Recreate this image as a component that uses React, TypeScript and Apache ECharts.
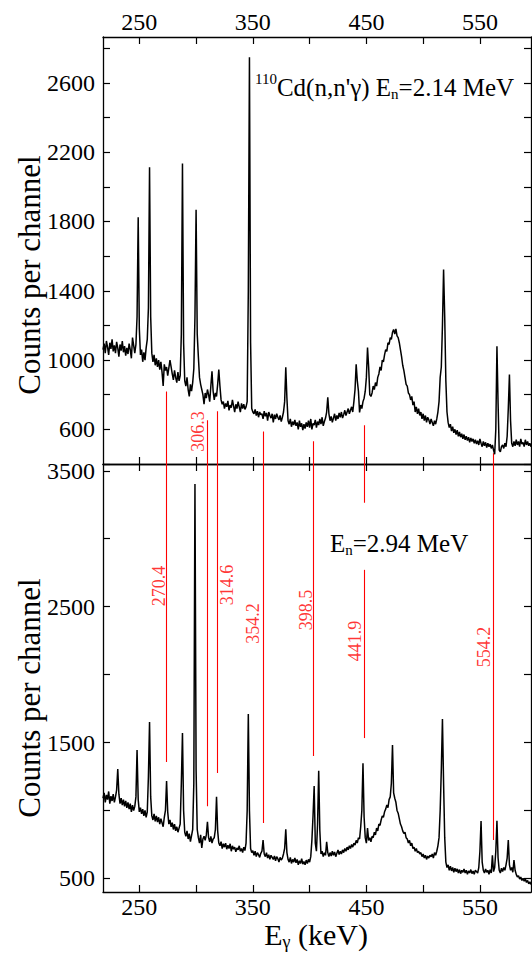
import React, { useEffect, useRef } from "react";
import * as echarts from "echarts";

// Energy of the first channel (keV); one value per keV
const E0 = 218;

// 110Cd(n,n'γ), En = 2.14 MeV — counts per channel, E = 218 … 595 keV
const topCounts = [
  1060, 1095, 1040, 1110, 1075, 1030, 1100, 1065, 1120, 1050,
  1085, 1040, 1105, 1070, 1020, 1090, 1055, 1110, 1045, 1080,
  1025, 1070, 1035, 1095, 1060, 1010, 1130, 1085, 1040, 1090,
  1250, 1825, 1180, 1030, 1060, 990, 1045, 1000, 1070, 1120,
  1300, 2113, 1250, 1040, 990, 1030, 970, 1010, 960, 1000,
  945, 990, 930, 850, 975, 940, 960, 910, 955, 1000,
  960, 920, 885, 940, 900, 870, 930, 880, 910, 1150,
  2134, 1100, 880, 850, 900, 830, 790, 860, 820, 870,
  950, 1250, 1867, 1150, 1020, 900, 860, 830, 800, 745,
  810, 780, 830, 800, 760, 850, 935, 820, 770, 810,
  790, 860, 945, 850, 770, 745, 760, 720, 750, 730,
  765, 710, 740, 725, 770, 735, 700, 745, 720, 760,
  730, 700, 750, 720, 745, 715, 730, 760, 1400, 2748,
  1100, 720, 700, 690, 715, 680, 705, 670, 700, 685,
  690, 660, 705, 675, 695, 650, 700, 680, 665, 690,
  640, 685, 660, 690, 670, 655, 680, 645, 670, 700,
  760, 958, 780, 650, 630, 660, 615, 645, 625, 655,
  620, 640, 600, 650, 615, 635, 595, 630, 605, 640,
  615, 650, 610, 660, 600, 635, 625, 655, 610, 645,
  625, 660, 630, 670, 620, 645, 665, 700, 785, 690,
  650, 675, 640, 665, 690, 650, 680, 660, 695, 670,
  700, 665, 685, 710, 680, 700, 720, 690, 710, 730,
  700, 760, 830, 975, 880, 820, 698, 740, 720, 760,
  780, 820, 900, 1073, 960, 800, 790, 810, 850, 830,
  870, 850, 900, 920, 960, 940, 1000, 990, 1030, 1060,
  1050, 1100, 1090, 1130, 1120, 1160, 1177, 1150, 1180, 1140,
  1130, 1100, 1060, 1020, 970, 940, 900, 860, 850, 810,
  800, 770, 790, 740, 760, 700, 730, 690, 720, 680,
  700, 660, 690, 650, 680, 640, 670, 655, 630, 660,
  640, 620, 650, 630, 660, 700, 760, 900, 960, 1200,
  1523, 1250, 880, 700, 640, 610, 630, 590, 615, 580,
  600, 570, 595, 560, 585, 555, 575, 545, 570, 540,
  560, 535, 555, 525, 550, 530, 545, 520, 540, 515,
  535, 510, 545, 520, 500, 530, 505, 525, 495, 520,
  500, 515, 490, 510, 480, 456, 600, 1080, 750, 480,
  470, 500, 510, 490, 520, 500, 560, 720, 917, 650,
  520, 500, 530, 505, 540, 510, 530, 500, 545, 515,
  525, 500, 540, 510, 530, 505, 520, 500,
];

// En = 2.94 MeV — counts per channel, E = 218 … 595 keV
const bottomCounts = [
  1090, 1130, 1060, 1115, 1080, 1140, 1050, 1105, 1070, 1120,
  1060, 1100, 1150, 1305, 1120, 1050, 1090, 1040, 1080, 1030,
  1070, 1020, 1060, 1010, 1050, 990, 1040, 1000, 1030, 1100,
  1445, 1080, 990, 1020, 975, 1010, 960, 1000, 950, 990,
  1250, 1651, 1100, 960, 930, 975, 920, 960, 915, 950,
  900, 940, 910, 880, 950, 1000, 1217, 990, 900, 930,
  880, 910, 860, 900, 850, 880, 840, 870, 900, 1200,
  1570, 1000, 840, 810, 850, 790, 830, 770, 815, 860,
  1200, 3402, 1300, 860, 800, 760, 820, 724, 790, 810,
  780, 820, 917, 800, 770, 810, 760, 790, 800, 860,
  1101, 850, 760, 740, 770, 720, 755, 730, 760, 715,
  745, 720, 755, 700, 740, 715, 730, 695, 725, 710,
  740, 700, 720, 690, 730, 705, 760, 1000, 1710, 1000,
  720, 690, 705, 670, 700, 660, 690, 675, 655, 685,
  700, 782, 680, 660, 690, 650, 675, 640, 670, 655,
  640, 665, 630, 660, 645, 620, 655, 635, 650, 680,
  720, 861, 690, 640, 620, 655, 610, 640, 620, 650,
  615, 640, 600, 630, 610, 645, 605, 625, 600, 635,
  610, 640, 620, 660, 780, 960, 1180, 760, 700, 900,
  1292, 850, 680, 700, 660, 690, 670, 770, 690, 660,
  690, 665, 700, 670, 695, 660, 685, 710, 675, 700,
  680, 710, 690, 720, 700, 730, 710, 740, 720, 750,
  730, 760, 745, 780, 760, 800, 790, 880, 1000, 1347,
  950, 800, 760, 870, 780, 800, 770, 810, 800, 840,
  820, 870, 850, 900, 890, 930, 960, 950, 990, 1010,
  1040, 1020, 1080, 1100, 1200, 1482, 1130, 1090, 1060, 1000,
  980, 940, 900, 880, 850, 830, 840, 800, 790, 760,
  780, 740, 760, 720, 730, 700, 720, 690, 700, 680,
  690, 660, 680, 650, 670, 640, 665, 650, 670, 660,
  680, 650, 690, 670, 700, 740, 800, 1000, 1300, 1673,
  1200, 800, 620, 580, 600, 560, 590, 555, 580, 545,
  575, 550, 570, 540, 565, 535, 560, 545, 570, 540,
  560, 530, 555, 540, 565, 535, 555, 530, 560, 550,
  540, 580, 700, 922, 620, 560, 540, 570, 545, 560,
  530, 565, 540, 671, 550, 580, 700, 924, 650, 560,
  540, 575, 550, 580, 560, 600, 650, 782, 600, 560,
  580, 545, 635, 560, 530, 510, 520, 495, 510, 485,
  500, 480, 495, 470, 485, 460, 475, 455,
];

// Red marker lines (position in keV), their labels and vertical extents
const markerEnergies = [273.7, 310.1, 318.9, 359.1, 403.3, 447.9, 561.7];
const markerLabels = ["270.4", "306.3", "314.6", "354.2", "398.5", "441.9", "554.2"];
const markerTopStart = [819, 652, 704, 588, 531, 623, 462]; // upper panel counts
const markerBottomEnd = [1357, 1032, 1276, 907, 1401, 1533, 782]; // lower panel counts
const markerGap441 = [3264, 2771]; // interruption behind "En=2.94 MeV"
const labelEnergies = [266.9, 302.1, 327.1, 350.5, 396.5, 440.4, 553.5];
const labelCounts = [2653, 588, 2660, 2377, 2476, 2248, 2204];
const labelPanel = [1, 0, 1, 1, 1, 1, 1];

// Axes
const xMin = 218;
const xMax = 595;
const xTicks = [250, 300, 350, 400, 450, 500, 550];
const xLabels = [250, 350, 450, 550];
const topYMin = 400;
const topYMax = 2865;
const topYTicks = [400, 600, 800, 1000, 1200, 1400, 1600, 1800, 2000, 2200, 2400, 2600, 2800];
const topYLabels = [600, 1000, 1400, 1800, 2200, 2600];
const botYMin = 400;
const botYMax = 3550;
const botYTicks = [500, 1000, 1500, 2000, 2500, 3000, 3500];
const botYLabels = [500, 1500, 2500, 3500];

const FONT = "Liberation Serif";
const RED = "#ff0000";

type Part = { s: string; size: number; dy: number };

function measure(s: string, size: number): number {
  const ctx = document.createElement("canvas").getContext("2d");
  if (!ctx) return s.length * size * 0.5;
  ctx.font = `${size}px "${FONT}"`;
  return ctx.measureText(s).width;
}

// A line of text made of pieces (for super/subscripts)
function textRun(parts: Part[], x: number, y: number, align: "left" | "center"): any[] {
  const widths = parts.map((p) => measure(p.s, p.size));
  const total = widths.reduce((a, b) => a + b, 0);
  let cx = align === "center" ? x - total / 2 : x;
  return parts.map((p, i) => {
    const el = {
      type: "text",
      x: cx,
      y: y + p.dy,
      z: 10,
      style: {
        text: p.s,
        fontFamily: FONT,
        fontSize: p.size,
        fill: "#000",
        align: "left",
        verticalAlign: "middle",
      },
    };
    cx += widths[i];
    return el;
  });
}

export default function App() {
  const ref = useRef<HTMLDivElement>(null);

  useEffect(() => {
    if (!ref.current) return;
    const chart = echarts.init(ref.current, null, { renderer: "svg" });

    const axisLine = { show: true, lineStyle: { color: "#000", width: 1.3 } };
    const plain = (v: number) => String(v);
    const mkX = (grid: number, position: string, labels: boolean) => ({
      type: "value",
      gridIndex: grid,
      position,
      min: xMin,
      max: xMax,
      axisLine,
      axisTick: { show: true, inside: true, length: 7, customValues: xTicks, lineStyle: { color: "#000", width: 1.2 } },
      axisLabel: labels
        ? { show: true, customValues: xLabels, formatter: plain, fontFamily: FONT, fontSize: 24, color: "#000", margin: 3 }
        : { show: false },
      splitLine: { show: false },
    });
    const mkY = (grid: number, position: string, min: number, max: number, ticks: number[], labels: number[] | null) => ({
      type: "value",
      gridIndex: grid,
      position,
      min,
      max,
      axisLine,
      axisTick: { show: true, inside: true, length: 7, customValues: ticks, lineStyle: { color: "#000", width: 1.2 } },
      axisLabel: labels
        ? { show: true, customValues: labels, formatter: plain, fontFamily: FONT, fontSize: 24, color: "#000", margin: 8 }
        : { show: false },
      splitLine: { show: false },
    });

    const topData = topCounts.map((v, i) => [E0 + i, v]);
    const botData = bottomCounts.map((v, i) => [E0 + i, v]);

    const topLines = markerEnergies.map((e, i) => ({ coords: [[e, markerTopStart[i]], [e, topYMin]] }));
    const botLines: any[] = [];
    markerEnergies.forEach((e, i) => {
      if (markerLabels[i] === "441.9") {
        botLines.push({ coords: [[e, botYMax], [e, markerGap441[0]]] });
        botLines.push({ coords: [[e, markerGap441[1]], [e, markerBottomEnd[i]]] });
      } else {
        botLines.push({ coords: [[e, botYMax], [e, markerBottomEnd[i]]] });
      }
    });

    const labelSeries = (panel: number) => ({
      type: "scatter",
      xAxisIndex: panel === 0 ? 0 : 3,
      yAxisIndex: panel === 0 ? 0 : 2,
      symbolSize: 0,
      silent: true,
      data: labelEnergies
        .map((e, i) => ({ value: [e, labelCounts[i]], name: markerLabels[i], p: labelPanel[i] }))
        .filter((d) => d.p === panel)
        .map((d) => ({ value: d.value, name: d.name })),
      label: {
        show: true,
        position: "inside",
        rotate: 90,
        formatter: (p: any) => p.name,
        fontFamily: FONT,
        fontSize: 18,
        color: RED,
      },
      z: 5,
    });

    const titleTop = textRun(
      [
        { s: "110", size: 15, dy: -8 },
        { s: "Cd(n,n'γ) E", size: 25, dy: 0 },
        { s: "n", size: 15, dy: 7 },
        { s: "=2.14 MeV", size: 25, dy: 0 },
      ],
      255,
      87,
      "left"
    );
    const titleBottom = textRun(
      [
        { s: "E", size: 25, dy: 0 },
        { s: "n", size: 15, dy: 7 },
        { s: "=2.94 MeV", size: 25, dy: 0 },
      ],
      330,
      543,
      "left"
    );
    const xName = textRun(
      [
        { s: "E", size: 30, dy: 0 },
        { s: "γ", size: 18, dy: 8 },
        { s: " (keV)", size: 30, dy: 0 },
      ],
      316,
      934,
      "center"
    );

    const option: any = {
      animation: false,
      backgroundColor: "#fff",
      textStyle: { fontFamily: FONT },
      grid: [
        { left: 103, top: 37, width: 428, height: 427 },
        { left: 103, top: 464, width: 428, height: 428 },
      ],
      xAxis: [
        mkX(0, "top", true),
        mkX(0, "bottom", false),
        mkX(1, "top", false),
        mkX(1, "bottom", true),
      ],
      yAxis: [
        mkY(0, "left", topYMin, topYMax, topYTicks, topYLabels),
        mkY(0, "right", topYMin, topYMax, topYTicks, null),
        mkY(1, "left", botYMin, botYMax, botYTicks, botYLabels),
        mkY(1, "right", botYMin, botYMax, botYTicks, null),
      ],
      series: [
        {
          type: "lines",
          coordinateSystem: "cartesian2d",
          xAxisIndex: 0,
          yAxisIndex: 0,
          silent: true,
          lineStyle: { color: RED, width: 1.1, opacity: 1 },
          data: topLines,
          z: 1,
        },
        {
          type: "lines",
          coordinateSystem: "cartesian2d",
          xAxisIndex: 3,
          yAxisIndex: 2,
          silent: true,
          lineStyle: { color: RED, width: 1.1, opacity: 1 },
          data: botLines,
          z: 1,
        },
        {
          type: "line",
          xAxisIndex: 0,
          yAxisIndex: 0,
          data: topData,
          showSymbol: false,
          symbol: "none",
          lineStyle: { color: "#000", width: 1.5 },
          z: 3,
        },
        {
          type: "line",
          xAxisIndex: 3,
          yAxisIndex: 2,
          data: botData,
          showSymbol: false,
          symbol: "none",
          lineStyle: { color: "#000", width: 1.5 },
          z: 3,
        },
        labelSeries(0),
        labelSeries(1),
      ],
      graphic: [
        ...titleTop,
        ...titleBottom,
        ...xName,
        {
          type: "text",
          x: 29,
          y: 275,
          rotation: Math.PI / 2,
          style: { text: "Counts per channel", fontFamily: FONT, fontSize: 31, fill: "#000", align: "center", verticalAlign: "middle" },
        },
        {
          type: "text",
          x: 29,
          y: 698,
          rotation: Math.PI / 2,
          style: { text: "Counts per channel", fontFamily: FONT, fontSize: 31, fill: "#000", align: "center", verticalAlign: "middle" },
        },
      ],
    };

    chart.setOption(option);
    return () => chart.dispose();
  }, []);

  return (
    <div
      ref={ref}
      style={{ position: "fixed", left: 0, top: 0, width: 532, height: 957, background: "#fff" }}
    />
  );
}
